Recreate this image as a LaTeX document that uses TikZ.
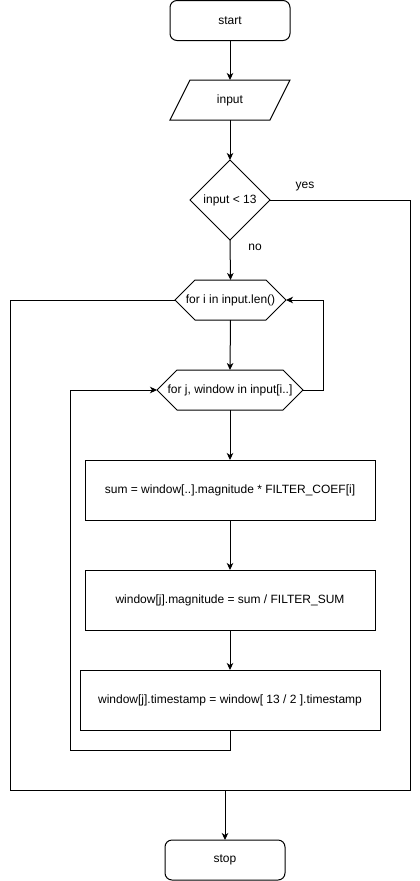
\documentclass[tikz,border=0pt]{standalone}
\usepackage{fontspec}
\setmainfont{Liberation Sans}
\usetikzlibrary{shapes.geometric,arrows.meta,calc}
\tikzset{
  txt/.style={font=\fontsize{12}{14}\selectfont, inner sep=0pt, outer sep=0pt, align=center},
  term/.style={txt, draw, rounded corners=7pt, minimum width=120pt, minimum height=40pt},
  proc/.style={txt, draw, minimum height=60pt},
  dec/.style={txt, draw, diamond, minimum width=80pt, minimum height=80pt},
  plain/.style={txt},
  flow/.style={line width=1pt, -{Stealth[length=7pt,width=6.5pt,inset=2pt]}},
  link/.style={line width=1pt},
  lbl/.style={font=\fontsize{12}{14}\selectfont, inner sep=0pt},
  every node/.append style={line width=1pt}
}
\begin{document}
\begin{tikzpicture}[x=1pt,y=-1pt]
\useasboundingbox (0,0) rectangle (420,881);
\node[term] (start) at (230,20.5) {start};
\node[plain, minimum width=120pt, minimum height=40pt] (input) at (230,100) {input};
\draw[line width=1pt] ($(input.north west)+(20,0)$) -- (input.north east) -- ($(input.south east)+(-20,0)$) -- (input.south west) -- cycle;
\node[dec] (cond) at (230,200) {input < 13};
\node[plain, minimum width=111pt, minimum height=40pt] (fori) at (230.5,300) {for i in input.len()};
\draw[line width=1pt] (fori.west) -- ($(fori.north west)+(20,0)$) -- ($(fori.north east)+(-20,0)$) -- (fori.east) -- ($(fori.south east)+(-20,0)$) -- ($(fori.south west)+(20,0)$) -- cycle;
\node[plain, minimum width=146pt, minimum height=40pt] (forj) at (230,390) {for j, window in input[i..]};
\draw[line width=1pt] (forj.west) -- ($(forj.north west)+(20,0)$) -- ($(forj.north east)+(-20,0)$) -- (forj.east) -- ($(forj.south east)+(-20,0)$) -- ($(forj.south west)+(20,0)$) -- cycle;
\node[proc, minimum width=290pt] (sum) at (230,490) {sum = window[..].magnitude * FILTER\_COEF[i]};
\node[proc, minimum width=290pt] (mag) at (230,600) {window[j].magnitude = sum / FILTER\_SUM};
\node[proc, minimum width=300pt] (ts) at (230,700) {window[j].timestamp = window[ 13 / 2 ].timestamp};
\node[term] (stop) at (225,860) {stop};
\coordinate (merge) at (225,790);

\draw[flow] (start) -- (input);
\draw[flow] (input.south) -- (cond.north);
\draw[flow] (cond.south) -- (fori.north);
\draw[flow] (fori.south) -- (forj.north);
\draw[flow] (forj.south) -- (sum.north);
\draw[flow] (sum) -- (mag);
\draw[flow] (mag) -- (ts);
\draw[flow] (forj.east) -- (323,390) |- (fori.east);
\draw[flow] (ts.south) -- (230,750) -| (70,390) -- (forj.west);
\draw[link] (cond.east) -- (410,200) |- (merge);
\draw[link] (fori.west) -- (10,300) |- (merge);
\draw[flow] (merge) -- (stop.north);

\node[lbl] (yes) at (305,187) {yes};
\node[lbl] (no) at (255,247) {no};
\end{tikzpicture}
\end{document}
